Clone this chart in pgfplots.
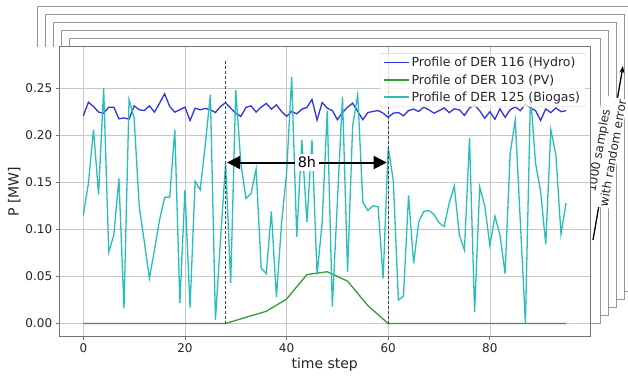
\documentclass[border=0pt]{standalone}
\usepackage{fontspec}
\setmainfont{DejaVu Sans}
\usepackage{pgfplots}
\pgfplotsset{compat=1.18}
\usetikzlibrary{arrows.meta}
\definecolor{mblue}{RGB}{50,50,225}
\definecolor{mgreen}{RGB}{55,155,55}
\definecolor{mcyan}{RGB}{40,190,190}
\definecolor{pagegray}{RGB}{150,150,150}
\begin{document}
\begin{tikzpicture}[x=1pt,y=1pt]
\clip (0,0) rectangle (628,376);
\path[use as bounding box] (0,0) rectangle (628,376);
% stacked pages behind (image px X,Y -> X, 376-Y)
\draw[pagegray, fill=white, line width=0.8pt] (37,376-291) rectangle (632,376-6.5);
\draw[pagegray, fill=white, line width=0.8pt] (45,376-299) rectangle (624,376-14.5);
\draw[pagegray, fill=white, line width=0.8pt] (53,376-307) rectangle (616,376-22.5);
\draw[pagegray, fill=white, line width=0.8pt] (61,376-315) rectangle (608,376-30.5);
\draw[pagegray, fill=white, line width=0.8pt] (69,376-323) rectangle (600,376-38.5);
\fill[white] (-5,-5) rectangle (591,376-46.5);
% annotation arrow and text on the right
\draw[black, line width=1.3pt, -{Stealth[length=7pt,width=5pt]}] (593,376-240) -- (623,376-66);
\node[rotate=80, fill=white, align=center, inner sep=1pt, font=\fontsize{12}{14.5}\selectfont, text=black!85] at (605.5,376-152) {1000 samples\\with random error};
\begin{axis}[
  at={(59.2pt,39.3pt)}, anchor=south west,
  scale only axis, width=531pt, height=290pt,
  xmin=-4.75, xmax=99.75, ymin=-0.014, ymax=0.294,
  xtick={0,20,40,60,80},
  ytick={0,0.05,0.10,0.15,0.20,0.25},
  scaled y ticks=false,
  yticklabel style={/pgf/number format/fixed, /pgf/number format/fixed zerofill, /pgf/number format/precision=2},
  /pgf/number format/assume math mode=true,
  tick label style={font=\fontsize{12}{14}\selectfont, text=black!85},
  label style={font=\fontsize{14}{16}\selectfont, text=black!85},
  xlabel={time step}, ylabel={P [MW]},
  xlabel style={yshift=2pt},
  ylabel style={yshift=-2pt},
  grid=major, grid style={black!22, line width=0.7pt},
  axis line style={black!55, line width=0.9pt},
  tick align=outside, xtick pos=lower, ytick pos=left,
  major tick length=3.5pt, tick style={black!55, line width=0.8pt},
  axis background/.style={fill=white},
  legend cell align=left,
  legend style={at={(rel axis cs:1,1)}, anchor=north east, xshift=-5pt, yshift=-6.5pt,
    draw=black!18, fill=white, fill opacity=0.8, text opacity=1, draw opacity=1,
    rounded corners=2pt, font=\fontsize{12.5}{15}\selectfont, text=black!85,
    inner xsep=3pt, inner ysep=2pt, row sep=2.2pt},
]
\addlegendimage{mblue, line width=1.6pt, legend image code/.code={\draw[mblue, line width=1.6pt] (0pt,0.3pt) -- (25pt,0.3pt);}}
\addlegendentry{Profile of DER 116 (Hydro)}
\addlegendimage{mgreen, line width=1.6pt, legend image code/.code={\draw[mgreen, line width=1.6pt] (0pt,0.3pt) -- (25pt,0.3pt);}}
\addlegendentry{Profile of DER 103 (PV)}
\addlegendimage{mcyan, line width=1.6pt, legend image code/.code={\draw[mcyan, line width=1.6pt] (0pt,0.3pt) -- (25pt,0.3pt);}}
\addlegendentry{Profile of DER 125 (Biogas)}
\addplot[mblue, line width=1.3pt, forget plot] coordinates {
(0,0.2206)(1,0.2350)(2,0.2305)(3,0.2245)(4,0.2234)(5,0.2298)(6,0.2298)(7,0.2174)(8,0.2184)(9,0.2170)
(10,0.2312)(11,0.2270)(12,0.2262)(13,0.2312)(14,0.2245)(15,0.2340)(16,0.2440)(17,0.2305)(18,0.2245)(19,0.2270)
(20,0.2298)(21,0.2156)(22,0.2287)(23,0.2270)(24,0.2285)(25,0.2270)(26,0.2241)(27,0.2305)(28,0.2345)(29,0.2287)
(30,0.2234)(31,0.2199)(32,0.2295)(33,0.2312)(34,0.2245)(35,0.2298)(36,0.2338)(37,0.2277)(38,0.2323)(39,0.2252)
(40,0.2200)(41,0.2252)(42,0.2227)(43,0.2277)(44,0.2295)(45,0.2380)(46,0.2160)(47,0.2348)(48,0.2287)(49,0.2262)
(50,0.2165)(51,0.2241)(52,0.2298)(53,0.2340)(54,0.2252)(55,0.2165)(56,0.2241)(57,0.2252)(58,0.2262)(59,0.2234)
(60,0.2190)(61,0.2234)(62,0.2241)(63,0.2206)(64,0.2262)(65,0.2277)(66,0.2252)(67,0.2298)(68,0.2270)(69,0.2234)
(70,0.2260)(71,0.2290)(72,0.2240)(73,0.2280)(74,0.2270)(75,0.2210)(76,0.2290)(77,0.2320)(78,0.2260)(79,0.2180)
(80,0.2250)(81,0.2170)(82,0.2280)(83,0.2190)(84,0.2270)(85,0.2300)(86,0.2260)(87,0.2330)(88,0.2290)(89,0.2260)
(90,0.2157)(91,0.2280)(92,0.2240)(93,0.2290)(94,0.2250)(95,0.2260)
};
\addplot[mgreen, line width=1.3pt, forget plot] coordinates {
(0,0)(28,0)(32,0.0066)(36,0.013)(40,0.026)(44,0.052)(48,0.055)(52,0.045)(56,0.019)(60,0)(95,0)
};
\addplot[mcyan, line width=1.3pt, forget plot] coordinates {
(0,0.115)(1,0.149)(2,0.206)(3,0.137)(4,0.250)(5,0.076)(6,0.094)(7,0.154)(8,0.016)(9,0.238)
(10,0.218)(11,0.124)(12,0.087)(13,0.048)(14,0.078)(15,0.110)(16,0.134)(17,0.134)(18,0.206)(19,0.022)
(20,0.142)(21,0.017)(22,0.151)(23,0.142)(24,0.190)(25,0.243)(26,0.004)(27,0.090)(28,0.170)(29,0.043)
(30,0.248)(31,0.170)(32,0.133)(33,0.138)(34,0.164)(35,0.059)(36,0.053)(37,0.119)(38,0.028)(39,0.106)
(40,0.160)(41,0.262)(42,0.092)(43,0.195)(44,0.108)(45,0.195)(46,0.052)(47,0.107)(48,0.226)(49,0.018)
(50,0.130)(51,0.241)(52,0.055)(53,0.210)(54,0.243)(55,0.129)(56,0.120)(57,0.125)(58,0.124)(59,0.048)
(60,0.187)(61,0.152)(62,0.025)(63,0.029)(64,0.136)(65,0.064)(66,0.108)(67,0.119)(68,0.120)(69,0.116)
(70,0.107)(71,0.103)(72,0.128)(73,0.146)(74,0.094)(75,0.078)(76,0.197)(77,0.012)(78,0.145)(79,0.125)
(80,0.083)(81,0.114)(82,0.094)(83,0.053)(84,0.181)(85,0.216)(86,0.108)(87,0.000)(88,0.242)(89,0.170)
(90,0.140)(91,0.084)(92,0.206)(93,0.179)(94,0.095)(95,0.128)
};
\addplot[black!75, line width=1.2pt, dash pattern=on 3pt off 2pt, forget plot] coordinates {(28,0)(28,0.28)};
\addplot[black!75, line width=1.2pt, dash pattern=on 3pt off 2pt, forget plot] coordinates {(60,0)(60,0.28)};
\draw[{Triangle[length=13pt,width=13pt]}-{Triangle[length=13pt,width=13pt]}, line width=2pt] (axis cs:28.3,0.171) -- (axis cs:59.7,0.171);
\node[fill=white, inner sep=2.5pt, font=\fontsize{14.4}{16}\selectfont] at (axis cs:44,0.171) {8h};
\end{axis}
\end{tikzpicture}
\end{document}
